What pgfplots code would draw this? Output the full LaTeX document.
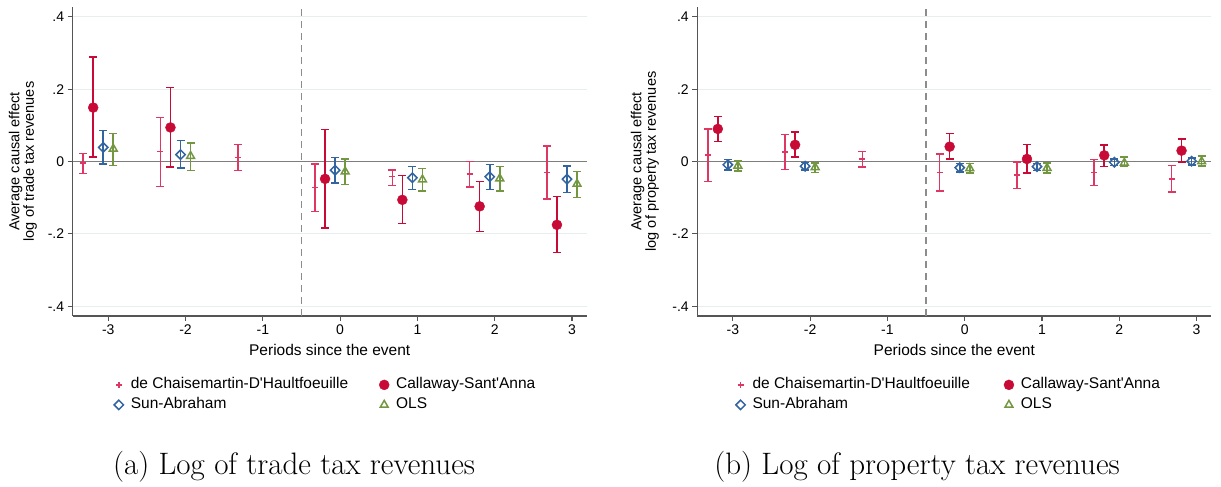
\documentclass[border=0pt]{standalone}
\usepackage{fontspec}
\usepackage{pgfplots}
\usepackage{pgfplotstable}
\pgfplotsset{compat=1.18}
\newfontfamily\arial{Liberation Sans}
\definecolor{dcdh}{RGB}{222,55,100}
\definecolor{csred}{RGB}{200,10,55}
\definecolor{sablue}{RGB}{50,100,160}
\definecolor{olsgreen}{RGB}{115,150,65}
\definecolor{axisgray}{RGB}{85,85,85}
\definecolor{gridgray}{RGB}{232,238,238}
\definecolor{zerogray}{RGB}{125,125,125}
\definecolor{dashgray}{RGB}{140,140,140}

% ---- trade tax revenues ----
\pgfplotstableread{
k y lo hi
-3 -0.004 -0.033 0.022
-2 0.027 -0.069 0.122
-1 0.011 -0.025 0.047
0 -0.072 -0.138 -0.007
1 -0.042 -0.066 -0.024
2 -0.034 -0.071 0.000
3 -0.030 -0.104 0.043
}\tradeD
\pgfplotstableread{
k y lo hi
-3 0.149 0.012 0.289
-2 0.094 -0.015 0.205
0 -0.048 -0.184 0.088
1 -0.106 -0.172 -0.039
2 -0.124 -0.194 -0.055
3 -0.175 -0.252 -0.097
}\tradeC
\pgfplotstableread{
k y lo hi
-3 0.039 -0.007 0.085
-2 0.019 -0.018 0.058
0 -0.024 -0.060 0.011
1 -0.045 -0.077 -0.014
2 -0.042 -0.078 -0.008
3 -0.049 -0.086 -0.012
}\tradeS
\pgfplotstableread{
k y lo hi
-3 0.035 -0.011 0.078
-2 0.015 -0.025 0.051
0 -0.028 -0.064 0.007
1 -0.050 -0.082 -0.019
2 -0.047 -0.082 -0.014
3 -0.062 -0.100 -0.027
}\tradeO
% ---- property tax revenues ----
\pgfplotstableread{
k y lo hi
-3 0.018 -0.055 0.090
-2 0.026 -0.022 0.074
-1 0.007 -0.015 0.027
0 -0.030 -0.082 0.021
1 -0.037 -0.074 -0.002
2 -0.030 -0.067 0.006
3 -0.048 -0.084 -0.011
}\propD
\pgfplotstableread{
k y lo hi
-3 0.090 0.055 0.124
-2 0.046 0.012 0.082
0 0.041 0.007 0.077
1 0.007 -0.032 0.047
2 0.017 -0.014 0.045
3 0.030 -0.002 0.062
}\propC
\pgfplotstableread{
k y lo hi
-3 -0.009 -0.023 0.005
-2 -0.013 -0.024 -0.003
0 -0.017 -0.029 -0.006
1 -0.014 -0.025 -0.005
2 -0.002 -0.011 0.007
3 0.001 -0.009 0.009
}\propS
\pgfplotstableread{
k y lo hi
-3 -0.012 -0.026 0.002
-2 -0.016 -0.030 -0.004
0 -0.019 -0.032 -0.005
1 -0.018 -0.032 -0.004
2 -0.004 -0.014 0.012
3 0.000 -0.012 0.015
}\propO

\pgfplotsset{
  lg/.style={legend image code/.code={\path (0pt,0pt) (15pt,0pt);\draw[mark repeat=2,mark phase=2,##1] plot coordinates {(0pt,0pt)(5pt,0pt)(10pt,0pt)};}},
  eb/.style={error bars/.cd, y dir=both, y explicit, error mark=|,
    error bar style={line width=1.6pt,color=#1},
    error mark options={mark size=4pt,line width=1.5pt,color=#1}},
  panel/.style={
    scale only axis, width=514pt, height=309pt,
    xmin=-3.46, xmax=3.19, ymin=-0.427, ymax=0.427,
    axis x line*=bottom, axis y line*=left,
    axis line style={draw=axisgray,line width=1.2pt,-},
    xtick={-3,-2,-1,0,1,2,3}, xticklabels={-3,-2,-1,0,1,2,3},
    ytick={-0.4,-0.2,0,0.2,0.4}, yticklabels={-.4,-.2,0,.2,.4},
    tick align=outside, major tick length=5pt,
    major tick style={draw=axisgray,line width=1.1pt},
    ticklabel style={font=\arial\fontsize{14}{16}\selectfont},
    ymajorgrids, major grid style={draw=gridgray,line width=1pt},
    extra y ticks={0}, extra y tick labels={},
    extra y tick style={major grid style={draw=zerogray,line width=1.5pt},major tick length=0pt},
    xlabel={Periods since the event},
    every axis x label/.style={at={(axis description cs:0.5,-0.11)},anchor=center,font=\arial\fontsize{15.5}{17}\selectfont},
    legend columns=2, legend cell align=left,
    legend style={draw=none,fill=none,inner sep=0pt,outer sep=0pt,anchor=north west,
      font=\arial\fontsize{15.5}{18}\selectfont,
      nodes={inner xsep=1.2pt,inner ysep=0pt,text height=12pt,text depth=4pt},
      row sep=4pt},
  },
}

\begin{document}
\begin{tikzpicture}[x=1pt,y=1pt]
\useasboundingbox (0,0) rectangle (1221,487);
% ---------------- panel (a) ----------------
\begin{axis}[panel, at={(72.7pt,171pt)}, anchor=south west,
  ylabel={Average causal effect\\log of trade tax revenues},
  every axis y label/.style={at={(axis description cs:-0.097,0.5)},rotate=90,anchor=center,align=center,font=\arial\fontsize{14.5}{13}\selectfont},
  legend style={at={(axis description cs:0.0786,-0.197)},/tikz/every even column/.append style={column sep=29pt}}]
\draw[dashgray,line width=1.5pt,dash pattern=on 7pt off 5pt] (axis cs:-0.5,-0.427) -- (axis cs:-0.5,0.427);
\addplot[only marks,lg,mark=+,mark size=3pt,color=dcdh,line width=1.5pt,eb=dcdh]
  table[x expr=\thisrow{k}-0.325,y=y,y error plus expr=\thisrow{hi}-\thisrow{y},y error minus expr=\thisrow{y}-\thisrow{lo}] {\tradeD};
\addlegendentry{de Chaisemartin-D'Haultfoeuille}
\addplot[only marks,lg,mark=*,mark size=5pt,color=csred,eb=csred]
  table[x expr=\thisrow{k}-0.195,y=y,y error plus expr=\thisrow{hi}-\thisrow{y},y error minus expr=\thisrow{y}-\thisrow{lo}] {\tradeC};
\addlegendentry{Callaway-Sant'Anna}
\addplot[only marks,lg,mark=square,mark size=3.3pt,mark options={rotate=45,fill=white},color=sablue,line width=1.5pt,eb=sablue]
  table[x expr=\thisrow{k}-0.065,y=y,y error plus expr=\thisrow{hi}-\thisrow{y},y error minus expr=\thisrow{y}-\thisrow{lo}] {\tradeS};
\addlegendentry{Sun-Abraham}
\addplot[only marks,lg,mark=triangle,mark size=4.5pt,mark options={fill=white},color=olsgreen,line width=1.5pt,eb=olsgreen]
  table[x expr=\thisrow{k}+0.065,y=y,y error plus expr=\thisrow{hi}-\thisrow{y},y error minus expr=\thisrow{y}-\thisrow{lo}] {\tradeO};
\addlegendentry{OLS}
\end{axis}
% ---------------- panel (b) ----------------
\begin{axis}[panel, at={(697.3pt,171pt)}, anchor=south west,
  ylabel={Average causal effect\\log of property tax revenues},
  every axis y label/.style={at={(axis description cs:-0.102,0.5)},rotate=90,anchor=center,align=center,font=\arial\fontsize{14.5}{13}\selectfont},
  legend style={at={(axis description cs:0.073,-0.197)},/tikz/every even column/.append style={column sep=32pt}}]
\draw[dashgray,line width=1.5pt,dash pattern=on 7pt off 5pt] (axis cs:-0.5,-0.427) -- (axis cs:-0.5,0.427);
\addplot[only marks,lg,mark=+,mark size=3pt,color=dcdh,line width=1.5pt,eb=dcdh]
  table[x expr=\thisrow{k}-0.325,y=y,y error plus expr=\thisrow{hi}-\thisrow{y},y error minus expr=\thisrow{y}-\thisrow{lo}] {\propD};
\addlegendentry{de Chaisemartin-D'Haultfoeuille}
\addplot[only marks,lg,mark=*,mark size=5pt,color=csred,eb=csred]
  table[x expr=\thisrow{k}-0.195,y=y,y error plus expr=\thisrow{hi}-\thisrow{y},y error minus expr=\thisrow{y}-\thisrow{lo}] {\propC};
\addlegendentry{Callaway-Sant'Anna}
\addplot[only marks,lg,mark=square,mark size=3.3pt,mark options={rotate=45,fill=white},color=sablue,line width=1.5pt,eb=sablue]
  table[x expr=\thisrow{k}-0.065,y=y,y error plus expr=\thisrow{hi}-\thisrow{y},y error minus expr=\thisrow{y}-\thisrow{lo}] {\propS};
\addlegendentry{Sun-Abraham}
\addplot[only marks,lg,mark=triangle,mark size=4.5pt,mark options={fill=white},color=olsgreen,line width=1.5pt,eb=olsgreen]
  table[x expr=\thisrow{k}+0.065,y=y,y error plus expr=\thisrow{hi}-\thisrow{y},y error minus expr=\thisrow{y}-\thisrow{lo}] {\propO};
\addlegendentry{OLS}
\end{axis}
% captions
\node[anchor=base,font=\fontsize{31}{35}\selectfont,inner sep=0pt] at (294,12) {(a) Log of trade tax revenues};
\node[anchor=base,font=\fontsize{31}{35}\selectfont,inner sep=0pt] at (917,12) {(b) Log of property tax revenues};
\end{tikzpicture}
\end{document}
